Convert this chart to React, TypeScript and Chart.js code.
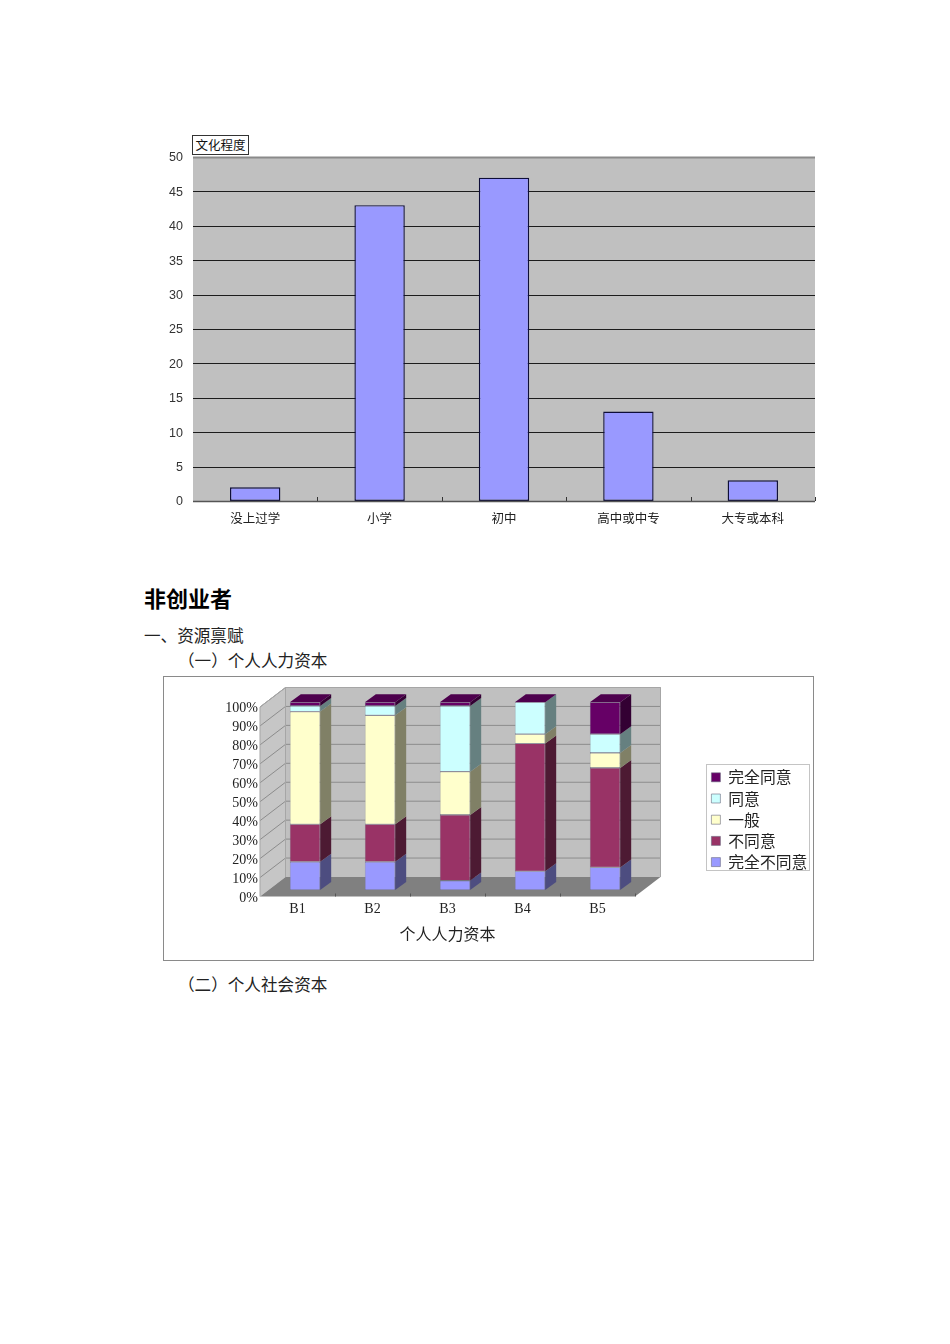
import React, { useEffect, useRef } from 'react';
import { Chart, registerables } from 'chart.js';
import type { Plugin } from 'chart.js';

Chart.register(...registerables);

const SANS_CJK = '"Noto Sans CJK SC", "Noto Sans", sans-serif';
const SERIF = '"Liberation Serif", "Noto Sans CJK SC", serif';

// top chart
const eduLabels = ['没上过学', '小学', '初中', '高中或中专', '大专或本科'];
const eduCounts = [2, 43, 47, 13, 3];

// lower chart, percent of answers
const capitalLabels = ['B1', 'B2', 'B3', 'B4', 'B5'];
const fullyDisagree = [15, 15, 5, 10, 12];
const disagree = [20, 20, 35, 68, 53];
const neutral = [60, 58, 23, 5, 8];
const agree = [3, 5, 35, 17, 10];
const fullyAgree = [2, 2, 2, 0, 17];

const answerNames = ['完全不同意', '不同意', '一般', '同意', '完全同意'];
const answerSeries = [fullyDisagree, disagree, neutral, agree, fullyAgree];
const answerColors = ['#9999FF', '#993366', '#FFFFCC', '#CCFFFF', '#660066'];
const answerSides = ['#4D4D80', '#4D1A33', '#808066', '#668080', '#330033'];

const WALL_DX = 25.5;
const WALL_DY = -19.5;
const BAR_DX = 11;
const BAR_DY = -8;
const BAR_SHIFT_X = 7.5;
const BAR_SHIFT_Y = -6.5;
const BAR_SQUASH = 0.991;

const flatChartDecor: Plugin<'bar'> = {
    id: 'flatChartDecor',
    beforeDatasetsDraw(chart) {
        const { ctx, chartArea: a } = chart;
        ctx.save();
        ctx.fillStyle = '#C0C0C0';
        ctx.fillRect(a.left, a.top, a.right - a.left, a.bottom - a.top);
        const yScale = chart.scales.y;
        yScale.ticks.forEach((t) => {
            const y = Math.round(yScale.getPixelForValue(t.value)) + 0.5;
            ctx.strokeStyle = t.value === 50 ? '#8a8a8a' : t.value === 0 ? '#444' : '#1c1c1c';
            ctx.lineWidth = t.value === 50 ? 2 : 1.2;
            ctx.beginPath();
            ctx.moveTo(a.left, y);
            ctx.lineTo(a.right, y);
            ctx.stroke();
        });
        ctx.restore();
    },
    afterDatasetsDraw(chart) {
        const { ctx, chartArea: a } = chart;
        const step = (a.right - a.left) / eduLabels.length;
        ctx.save();
        ctx.strokeStyle = '#333';
        ctx.lineWidth = 1;
        eduLabels.forEach((_, i) => {
            const x = Math.round(chart.scales.x.getPixelForValue(i) + step / 2) + 0.5;
            ctx.beginPath();
            ctx.moveTo(x, a.bottom);
            ctx.lineTo(x, a.bottom - 4);
            ctx.stroke();
        });
        ctx.strokeStyle = '#555';
        ctx.lineWidth = 1.5;
        ctx.beginPath();
        ctx.moveTo(a.left, a.bottom + 0.5);
        ctx.lineTo(a.right, a.bottom + 0.5);
        ctx.stroke();
        ctx.restore();
    },
};

const poly = (ctx: CanvasRenderingContext2D, pts: number[][], fill: string) => {
    ctx.fillStyle = fill;
    ctx.beginPath();
    pts.forEach(([x, y], i) => (i ? ctx.lineTo(x, y) : ctx.moveTo(x, y)));
    ctx.closePath();
    ctx.fill();
};

// box walls, floor and the side faces; the front faces are the normal bars, shifted
const boxChartDecor: Plugin<'bar'> = {
    id: 'boxChartDecor',
    beforeDatasetsDraw(chart) {
        const { ctx, chartArea: a } = chart;
        const yScale = chart.scales.y;
        const bx = a.left + WALL_DX;
        const rx = a.right + WALL_DX;
        ctx.save();
        poly(ctx, [[a.left, a.top], [bx, a.top + WALL_DY], [bx, a.bottom + WALL_DY], [a.left, a.bottom]], '#C6C6C6');
        ctx.fillStyle = '#C0C0C0';
        ctx.fillRect(bx, a.top + WALL_DY, rx - bx, a.bottom - a.top);
        poly(ctx, [[a.left, a.bottom], [bx, a.bottom + WALL_DY], [rx, a.bottom + WALL_DY], [a.right, a.bottom]], '#808080');

        ctx.strokeStyle = '#8c8c8c';
        ctx.lineWidth = 1;
        yScale.ticks.forEach((t) => {
            if (t.value === 0) return;
            const y = yScale.getPixelForValue(t.value);
            ctx.beginPath();
            ctx.moveTo(a.left, y);
            ctx.lineTo(bx, y + WALL_DY);
            ctx.lineTo(rx, y + WALL_DY);
            ctx.stroke();
        });
        ctx.strokeStyle = '#a6a6a6';
        ctx.beginPath();
        ctx.moveTo(a.left, a.bottom);
        ctx.lineTo(a.left, a.top);
        ctx.lineTo(bx, a.top + WALL_DY);
        ctx.lineTo(rx, a.top + WALL_DY);
        ctx.lineTo(rx, a.bottom + WALL_DY);
        ctx.moveTo(bx, a.top + WALL_DY);
        ctx.lineTo(bx, a.bottom + WALL_DY);
        ctx.stroke();

        const shiftY = (v: number) => a.bottom + BAR_SHIFT_Y + (v - a.bottom) * BAR_SQUASH;
        chart.data.datasets.forEach((_, d) => {
            chart.getDatasetMeta(d).data.forEach((el: any) => {
                const r = el.x + el.width / 2 + BAR_SHIFT_X;
                const l = el.x - el.width / 2 + BAR_SHIFT_X;
                const top = shiftY(el.y);
                const base = shiftY(el.base);
                poly(ctx, [[r, top], [r + BAR_DX, top + BAR_DY], [r + BAR_DX, base + BAR_DY], [r, base]], answerSides[d]);
                if (d === chart.data.datasets.length - 1) {
                    poly(ctx, [[l, top], [l + BAR_DX, top + BAR_DY], [r + BAR_DX, top + BAR_DY], [r, top]], '#4D004D');
                }
            });
        });
        ctx.restore();

        ctx.save();
        ctx.translate(BAR_SHIFT_X, a.bottom + BAR_SHIFT_Y);
        ctx.scale(1, BAR_SQUASH);
        ctx.translate(0, -a.bottom);
    },
    afterDatasetsDraw(chart) {
        const { ctx, chartArea: a } = chart;
        ctx.restore();
        // small marks between the categories, on the floor edge
        const step = (a.right - a.left) / capitalLabels.length;
        ctx.save();
        ctx.strokeStyle = '#555';
        ctx.lineWidth = 1;
        capitalLabels.forEach((_, i) => {
            const x = Math.round(chart.scales.x.getPixelForValue(i) + step / 2) + 0.5;
            ctx.beginPath();
            ctx.moveTo(x, a.bottom);
            ctx.lineTo(x, a.bottom - 3);
            ctx.stroke();
        });
        ctx.restore();
    },
    afterLayout(chart) {
        // legend sits well away from the plot; bottom stays loose so the rows do not wrap
        const legend: any = chart.legend;
        legend.left = 543;
        legend.right = 646;
        legend.top = 88;
        legend.bottom = 280;
    },
    afterDraw(chart) {
        const { ctx } = chart;
        const legend: any = chart.legend;
        ctx.save();
        ctx.strokeStyle = '#c4c4c4';
        ctx.lineWidth = 1;
        ctx.strokeRect(legend.left + 0.5, legend.top + 0.5, legend.right - legend.left, 106);
        ctx.restore();
    },
};

const EduChart: React.FC = () => {
    const ref = useRef<HTMLCanvasElement>(null);

    useEffect(() => {
        if (!ref.current) return;
        const chart = new Chart(ref.current, {
            type: 'bar',
            data: {
                labels: eduLabels,
                datasets: [{
                    data: eduCounts,
                    backgroundColor: '#9999FF',
                    borderColor: '#0e0e38',
                    borderWidth: 1.4,
                    borderSkipped: false,
                    barPercentage: 0.405,
                    categoryPercentage: 1,
                }],
            },
            options: {
                animation: false,
                responsive: false,
                layout: { autoPadding: false, padding: { top: 27, right: 15, left: 0, bottom: 0 } },
                plugins: { legend: { display: false }, tooltip: { enabled: false } },
                scales: {
                    x: {
                        grid: { display: false, drawTicks: false },
                        border: { display: false },
                        ticks: { color: '#222', font: { family: SANS_CJK, size: 12.5 }, padding: 10, maxRotation: 0 },
                        afterFit: (s) => { s.height = 39; },
                    },
                    y: {
                        min: 0,
                        max: 50,
                        grid: { display: false, drawTicks: false },
                        border: { display: false },
                        ticks: {
                            stepSize: 5,
                            autoSkip: false,
                            color: '#333',
                            font: { family: '"Liberation Sans", sans-serif', size: 12.5 },
                            padding: 10,
                            labelOffset: 1,
                        },
                        afterFit: (s) => { s.width = 43; },
                    },
                },
            },
            plugins: [flatChartDecor],
        });
        return () => chart.destroy();
    }, []);

    return <canvas ref={ref} width={680} height={410} style={{ position: 'absolute', left: 150, top: 130 }} />;
};

const CapitalChart: React.FC = () => {
    const ref = useRef<HTMLCanvasElement>(null);

    useEffect(() => {
        if (!ref.current) return;
        const chart = new Chart(ref.current, {
            type: 'bar',
            data: {
                labels: capitalLabels,
                datasets: answerSeries.map((values, i) => ({
                    label: answerNames[i],
                    data: values,
                    backgroundColor: answerColors[i],
                    borderColor: '#6a6a80',
                    borderWidth: 0.6,
                    borderSkipped: false,
                    barPercentage: 0.405,
                    categoryPercentage: 1,
                    clip: false,
                })),
            },
            options: {
                animation: false,
                responsive: false,
                layout: { autoPadding: false, padding: { top: 31, right: 79, left: 0, bottom: 0 } },
                plugins: {
                    tooltip: { enabled: false },
                    legend: {
                        position: 'right',
                        align: 'start',
                        maxWidth: 100,
                        reverse: true,
                        labels: {
                            boxWidth: 9,
                            boxHeight: 9,
                            padding: 5.4,
                            color: '#222',
                            font: { family: SANS_CJK, size: 15.8 },
                        },
                    },
                },
                scales: {
                    x: {
                        stacked: true,
                        grid: { display: false, drawTicks: false },
                        border: { display: false },
                        ticks: { color: '#222', font: { family: SERIF, size: 14 }, padding: 4 },
                        title: {
                            display: true,
                            text: '个人人力资本',
                            color: '#222',
                            font: { family: SANS_CJK, size: 16 },
                            padding: { top: 0, bottom: 17 },
                        },
                        afterFit: (s) => { s.height = 64.5; },
                    },
                    y: {
                        stacked: true,
                        min: 0,
                        max: 100,
                        grid: { display: false, drawTicks: false },
                        border: { display: false },
                        ticks: {
                            stepSize: 10,
                            autoSkip: false,
                            color: '#222',
                            font: { family: SERIF, size: 14 },
                            padding: 2,
                            labelOffset: 1.5,
                            callback: (v) => `${v}%`,
                        },
                        afterFit: (s) => { s.width = 97; },
                    },
                },
            },
            plugins: [boxChartDecor],
        });
        return () => chart.destroy();
    }, []);

    return <canvas ref={ref} width={651} height={285} style={{ position: 'absolute', left: 163, top: 676 }} />;
};

const textStyle = (left: number, top: number, size: number): React.CSSProperties => ({
    position: 'absolute',
    left,
    top,
    fontSize: size,
    lineHeight: `${size + 4}px`,
    fontFamily: SANS_CJK,
    color: '#222',
    whiteSpace: 'nowrap',
});

export default function App() {
    return (
        <div style={{ position: 'absolute', left: 0, top: 0, width: 950, height: 1344, background: '#fff', overflow: 'hidden' }}>
            <EduChart />
            <div style={{
                position: 'absolute', left: 192, top: 135, width: 55, height: 18, border: '1px solid #333', background: '#fff',
                font: `12.5px/18px ${SANS_CJK}`, color: '#111', textAlign: 'center',
            }}>文化程度</div>

            <div style={{ ...textStyle(144, 584, 22), fontWeight: 700, color: '#000' }}>非创业者</div>
            <div style={textStyle(144, 625, 16.6)}>一、资源禀赋</div>
            <div style={textStyle(178, 650, 16.6)}>（一）个人人力资本</div>

            <div style={{ position: 'absolute', left: 163, top: 676, width: 649, height: 283, border: '1px solid #8a8a8a' }} />
            <CapitalChart />

            <div style={textStyle(178, 974, 16.6)}>（二）个人社会资本</div>
        </div>
    );
}
